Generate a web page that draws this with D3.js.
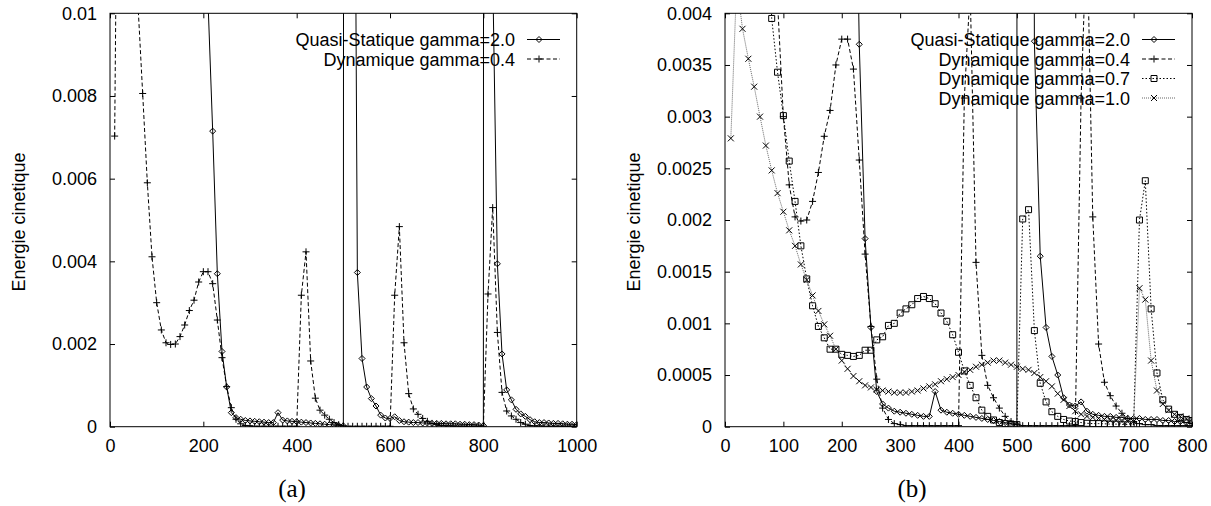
<!DOCTYPE html>
<html><head><meta charset="utf-8">
<script src="https://cdn.jsdelivr.net/npm/d3@7"></script>
<style>
body{margin:0;background:#fff;}
svg{display:block;}
text{font-family:"Liberation Sans",Arial,Helvetica,sans-serif;}
</style></head>
<body><svg id="chart" width="1211" height="506"></svg>
<script>
// ---------------- DATA ----------------
// time axis categories (step 10)
const timesQS = [0,10,20,30,40,50,60,70,80,90,100,110,120,130,140,150,160,170,180,190,200,210,220,230,240,250,260,270,280,290,300,310,320,330,340,350,360,370,380,390,400,410,420,430,440,450,460,470,480,490,500,510,520,530,540,550,560,570,580,590,600,610,620,630,640,650,660,670,680,690,700,710,720,730,740,750,760,770,780,790,800,810,820,830,840,850,860,870,880,890,900,910,920,930,940,950,960,970,980,990,1000];
const timesDyn = timesQS.slice(1);              // dynamic runs start at 10
const timesDynB = timesDyn.filter(t => t <= 800); // runs shown to 800 only

// Quasi-Statique gamma=2.0 (values above the plotted range are off-chart estimates)
const quasiStatique20 = [0.09,0.088,0.085,0.082,0.079,0.075,0.072,0.068,0.064,0.06,0.056,0.052,0.048,0.044,0.04,0.036,0.032,0.028,0.024,0.02,0.016,
 0.0103,0.00715,0.0037,0.00182,0.00096,0.00034,0.00022,0.00018,0.00015,0.00014,0.00013,0.00012,0.00011,0.0001,0.0001,
 0.00034,0.00016,0.00014,0.00013,0.00012,0.00011,0.0001,0.00009,0.00008,0.00007,0.00006,0.00005,0.00004,0.00003,0.00002,
 0.3,0.0246,0.00373,0.00165,0.00096,0.00068,0.0005,0.00028,0.00021,0.0002,0.00024,0.00015,0.00012,0.00011,0.0001,0.0001,0.00009,0.00009,0.00008,0.00008,
 0.00008,0.00007,0.00007,0.00007,0.00006,0.00006,0.00005,0.00005,0.00004,0.00003,
 0.3,0.011,0.00394,0.00176,0.00089,0.00065,0.00042,0.00031,0.00025,0.00017,0.00012,0.0001,0.0001,0.00009,0.00008,0.00008,0.00007,0.00006,0.00006,0.00005];

// Dynamique gamma=0.4 (t = 10 .. 1000)
const dynamique04 = [0.00703,0.02,0.03,0.028,0.02,0.0102,0.00806,0.0059,0.00411,0.003,
 0.00234,0.00203,0.00199,0.002,0.00218,0.00246,0.00281,0.00306,0.0035,0.00375,
 0.00375,0.00346,0.00258,0.00167,0.00097,0.00046,0.00018,0.00007,0.00003,0.00002,
 0.00001,0.00001,0.00001,0.00001,0.00001,0.00001,0.00001,0.00001,0.00001,0.00001,
 0.00318,0.00423,0.00159,0.00069,0.0004,0.00028,0.00018,0.0001,0.00005,0.00002,
 0.00001,0.00001,0.00001,0.00001,0.00001,0.00001,0.00001,0.00001,0.00001,0.00001,
 0.00318,0.00484,0.00203,0.0008,0.00043,0.0003,0.0002,0.00013,0.00008,0.00005,
 0.00003,0.00002,0.00002,0.00001,0.00001,0.00001,0.00001,0.00001,0.00001,0.00001,
 0.00321,0.0053,0.00228,0.00083,0.00038,0.00026,0.00018,0.0001,0.00006,0.00003,
 0.00002,0.00002,0.00001,0.00001,0.00001,0.00001,0.00001,0.00001,0.00001,0.00001];

// Dynamique gamma=0.7 (t = 10 .. 800)
const dynamique07 = [0.03,0.028,0.025,0.02,0.015,0.01,0.0055,0.00395,0.00343,0.00301,
 0.00257,0.00218,0.00175,0.00143,0.00117,0.00097,0.00086,0.00075,0.00075,0.0007,
 0.00069,0.00068,0.00069,0.00074,0.00074,0.00084,0.00087,0.00098,0.001,0.0011,
 0.00114,0.00118,0.00124,0.00126,0.00124,0.00119,0.0011,0.00102,0.00089,0.00072,
 0.00054,0.0004,0.00028,0.00016,0.0001,0.000065,0.00004,0.00003,0.000026,0.00002,
 0.00201,0.0021,0.00093,0.00042,0.00024,0.000145,0.0001,0.00007,0.000055,0.00005,
 0.00004,0.000033,0.00003,0.00003,0.000028,0.000025,0.000025,0.000022,0.00002,0.00002,
 0.002,0.00238,0.00114,0.00052,0.00026,0.00017,0.00012,0.00009,0.00007,0.00006];

// Dynamique gamma=1.0 (t = 10 .. 800)
const dynamique10 = [0.00279,0.0043,0.00385,0.00356,0.00329,0.003,0.00272,0.00248,0.00226,0.00208,
 0.0019,0.00175,0.00157,0.00142,0.00127,0.00112,0.00099,0.00088,0.00075,0.00064,
 0.00056,0.00049,0.00044,0.0004,0.00038,0.00036,0.00035,0.00034,0.00033,0.00033,
 0.00033,0.00034,0.00035,0.00037,0.00039,0.00041,0.00044,0.00046,0.00048,0.0005,
 0.00053,0.00055,0.00058,0.0006,0.00062,0.00064,0.00064,0.00062,0.0006,0.00058,
 0.00056,0.00055,0.00052,0.00048,0.00044,0.00039,0.00032,0.00026,0.0002,0.00015,
 0.00012,0.0001,0.00009,0.00008,0.00007,0.00006,0.00006,0.00005,0.00005,0.00005,
 0.00134,0.00123,0.00064,0.00035,0.00022,0.00016,0.00012,0.0001,0.00008,0.00007];

// Tick labels
const xTicksA = [0,200,400,600,800,1000];
const yTicksA = [0,0.002,0.004,0.006,0.008,0.01];
const yTickLabelsA = ["0","0.002","0.004","0.006","0.008","0.01"];
const xTicksB = [0,100,200,300,400,500,600,700,800];
const yTicksB = [0,0.0005,0.001,0.0015,0.002,0.0025,0.003,0.0035,0.004];
const yTickLabelsB = ["0","0.0005","0.001","0.0015","0.002","0.0025","0.003","0.0035","0.004"];

const yTitle = "Energie cinetique";
const seriesA = [
  {name:"Quasi-Statique gamma=2.0", t:timesQS, v:quasiStatique20, style:"solid", marker:"diamond"},
  {name:"Dynamique gamma=0.4", t:timesDyn, v:dynamique04, style:"dashed", marker:"plus"}
];
const seriesB = [
  {name:"Quasi-Statique gamma=2.0", t:timesQS, v:quasiStatique20, style:"solid", marker:"diamond"},
  {name:"Dynamique gamma=0.4", t:timesDyn, v:dynamique04, style:"dashed", marker:"plus"},
  {name:"Dynamique gamma=0.7", t:timesDynB, v:dynamique07, style:"dotted", marker:"square"},
  {name:"Dynamique gamma=1.0", t:timesDynB, v:dynamique10, style:"fine", marker:"cross"}
];

// ---------------- DRAWING ----------------
const svg = d3.select("#chart");
const lineStyles = {
  solid:{stroke:"#000", dash:null, w:1},
  dashed:{stroke:"#000", dash:"4,2.5", w:1},
  dotted:{stroke:"#000", dash:"1.5,2", w:1},
  fine:{stroke:"#666", dash:"1,1", w:1}
};
const markerPath = {
  diamond: r => `M0,${-3}L3,0L0,3L-3,0Z`,
  plus: r => `M-3.5,0H3.5M0,-3.5V3.5`,
  square: r => `M-3,-3H3V3H-3Z`,
  cross: r => `M-3,-3L3,3M-3,3L3,-3`
};

function panel(cfg){
  const {x0,x1,y0,y1,xDom,yDom,xTicks,yTicks,yLabels,series,legendRight,legendTop,id,titleX,caption,captionX} = cfg;
  const x = d3.scaleLinear().domain(xDom).range([x0,x1]);
  const y = d3.scaleLinear().domain(yDom).range([y1,y0]);
  const g = svg.append("g");
  g.append("clipPath").attr("id","clip"+id).append("rect")
    .attr("x",x0).attr("y",y0).attr("width",x1-x0).attr("height",y1-y0);

  const tick = 5;
  const ax = (axis, tr) => {
    const a = g.append("g").attr("transform",tr).call(axis);
    a.select(".domain").remove();
    a.selectAll("line").attr("stroke","#000");
    a.selectAll("text").attr("font-size",18).attr("fill","#000").attr("font-family",null);
    return a;
  };
  ax(d3.axisBottom(x).tickValues(xTicks).tickSize(-tick).tickPadding(13).tickFormat(d=>String(d)), `translate(0,${y1})`);
  ax(d3.axisTop(x).tickValues(xTicks).tickSize(-tick).tickFormat(""), `translate(0,${y0})`);
  ax(d3.axisLeft(y).tickValues(yTicks).tickSize(-tick).tickPadding(13).tickFormat((d,i)=>yLabels[i]), `translate(${x0},0)`);
  ax(d3.axisRight(y).tickValues(yTicks).tickSize(-tick).tickFormat(""), `translate(${x1},0)`);

  const plot = g.append("g").attr("clip-path",`url(#clip${id})`);
  series.forEach(s=>{
    const st = lineStyles[s.style];
    const pts = s.t.map((t,i)=>[t,s.v[i]]).filter(p=>p[0]>=xDom[0]&&p[0]<=xDom[1]);
    plot.append("path").attr("d", d3.line().x(p=>x(p[0])).y(p=>y(p[1]))(pts))
      .attr("fill","none").attr("stroke",st.stroke).attr("stroke-width",st.w)
      .attr("stroke-dasharray",st.dash);
    plot.selectAll(null).data(pts.filter(p=>p[1]<=yDom[1])).join("path")
      .attr("transform",p=>`translate(${x(p[0])},${y(p[1])})`)
      .attr("d",markerPath[s.marker]()).attr("fill","none").attr("stroke","#000").attr("stroke-width",1);
  });

  // legend
  series.forEach((s,i)=>{
    const st = lineStyles[s.style];
    const yy = legendTop + i*19.5;
    g.append("text").attr("x",legendRight).attr("y",yy+6.5).attr("text-anchor","end")
      .attr("font-size",18).text(s.name);
    g.append("line").attr("x1",legendRight+12).attr("x2",legendRight+45).attr("y1",yy).attr("y2",yy)
      .attr("stroke",st.stroke).attr("stroke-dasharray",st.dash).attr("stroke-width",1);
    g.append("path").attr("transform",`translate(${legendRight+24},${yy})`).attr("d",markerPath[s.marker]())
      .attr("fill","none").attr("stroke","#000");
  });

  // frame
  g.append("rect").attr("x",x0).attr("y",y0).attr("width",x1-x0).attr("height",y1-y0)
    .attr("fill","none").attr("stroke","#000").attr("stroke-width",1);

  // y title
  g.append("text").attr("transform",`translate(${titleX},${(y0+y1)/2+2}) rotate(-90)`)
    .attr("text-anchor","middle").attr("font-size",18).text(yTitle);
  // caption
  g.append("text").attr("x",captionX).attr("y",497).attr("text-anchor","middle")
    .attr("font-size",25).style("font-family","'Liberation Serif','DejaVu Serif',serif").text(caption);
}

panel({id:"A",x0:110,x1:576.7,y0:13.3,y1:426.7,xDom:[0,1000],yDom:[0,0.01],xTicks:xTicksA,yTicks:yTicksA,
  yLabels:yTickLabelsA,series:seriesA,legendRight:515,legendTop:39.5,titleX:24.5,caption:"(a)",captionX:292});
panel({id:"B",x0:725,x1:1192,y0:13.3,y1:426.7,xDom:[0,800],yDom:[0,0.004],xTicks:xTicksB,yTicks:yTicksB,
  yLabels:yTickLabelsB,series:seriesB,legendRight:1130,legendTop:39.5,titleX:639.5,caption:"(b)",captionX:912});
</script></body></html>
